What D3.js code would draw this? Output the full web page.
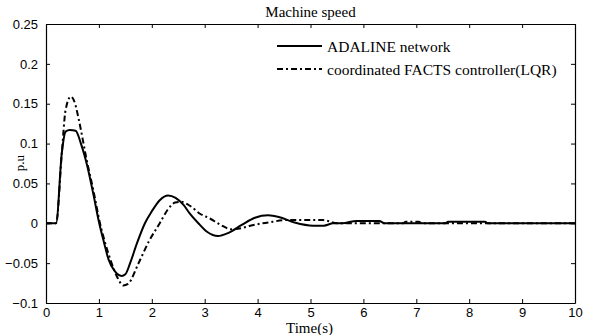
<!DOCTYPE html>
<html>
<head>
<meta charset="utf-8">
<script src="https://cdn.jsdelivr.net/npm/d3@7"></script>
<style>
  body { margin: 0; background: #fff; }
  .tick-label { font-family: "Liberation Sans", Arial, sans-serif; font-size: 13px; fill: #000; }
  .serif { font-family: "Liberation Serif", "Times New Roman", serif; fill: #000; }
</style>
</head>
<body>
<div class="chart"></div>
<script>
// values
var timeAdaline = [0, 0.19, 0.3, 0.37, 0.45, 0.56, 0.66, 0.78, 0.9, 1.0, 1.1, 1.18, 1.3, 1.43, 1.5, 1.59, 1.72, 1.87, 2.0, 2.15, 2.31, 2.45, 2.6, 2.72, 2.88, 3.05, 3.25, 3.45, 3.7, 3.95, 4.2, 4.4, 4.7, 5.05, 5.25, 5.43, 5.6, 5.87, 6.3, 6.4, 7.55, 7.6, 8.3, 8.35, 10];
var speedAdaline = [0, 0, 0.089, 0.115, 0.117, 0.116, 0.100, 0.072, 0.035, 0.002, -0.025, -0.045, -0.060, -0.066, -0.064, -0.05, -0.025, 0.0, 0.015, 0.029, 0.035, 0.032, 0.023, 0.012, 0.0, -0.011, -0.016, -0.012, -0.002, 0.007, 0.010, 0.008, 0.001, -0.003, -0.003, 0.0, 0.0, 0.003, 0.003, 0, 0, 0.002, 0.002, 0, 0];

var timeLqr = [0, 0.19, 0.3, 0.37, 0.47, 0.55, 0.62, 0.78, 0.9, 1.02, 1.12, 1.24, 1.35, 1.46, 1.55, 1.75, 1.95, 2.15, 2.3, 2.44, 2.55, 2.72, 2.91, 3.1, 3.3, 3.5, 3.7, 3.86, 4.2, 4.55, 5.24, 5.5, 6.0, 6.75, 6.8, 7.05, 7.1, 10];
var speedLqr = [0, 0, 0.089, 0.142, 0.159, 0.15, 0.13, 0.076, 0.04, 0.0, -0.025, -0.05, -0.068, -0.078, -0.076, -0.05, -0.022, 0.0, 0.017, 0.026, 0.027, 0.022, 0.012, 0.006, -0.002, -0.0075, -0.006, -0.003, 0.001, 0.004, 0.004, 0.0, 0.0, 0.0, 0.002, 0.002, 0, 0];

var xTicks = [0, 1, 2, 3, 4, 5, 6, 7, 8, 9, 10];
var yTicks = [-0.1, -0.05, 0, 0.05, 0.1, 0.15, 0.2, 0.25];
var seriesNames = ["ADALINE network", "coordinated FACTS controller(LQR)"];

var margin = {top: 24, right: 14, bottom: 32, left: 46};
var width = 589 - margin.left - margin.right;
var height = 335 - margin.top - margin.bottom;

var svg = d3.select(".chart")
    .append("svg")
    .attr("width", 589)
    .attr("height", 335);

var g = svg.append("g")
    .attr("transform", "translate(" + margin.left + "," + margin.top + ")");

var x = d3.scaleLinear().domain([0, 10]).range([0, width]);
var y = d3.scaleLinear().domain([-0.1, 0.25]).range([height, 0]);

var fmt = function(d) { return d3.format("")(+d.toFixed(2)); };

// axes, ticks pointing inward on all sides
g.append("g")
    .attr("transform", "translate(0," + height + ")")
    .call(d3.axisBottom(x).tickValues(xTicks).tickSizeInner(-4).tickSizeOuter(0).tickPadding(5).tickFormat(fmt));
g.append("g")
    .call(d3.axisLeft(y).tickValues(yTicks).tickSizeInner(-4).tickSizeOuter(0).tickPadding(8).tickFormat(fmt));
g.append("g")
    .call(d3.axisTop(x).tickValues(xTicks).tickSizeInner(-4).tickSizeOuter(0).tickFormat(""));
g.append("g")
    .attr("transform", "translate(" + width + ",0)")
    .call(d3.axisRight(y).tickValues(yTicks).tickSizeInner(-4).tickSizeOuter(0).tickFormat(""));

g.selectAll(".domain").attr("stroke", "#000").attr("stroke-width", 1.2);
g.selectAll(".tick line").attr("stroke", "#000");
g.selectAll(".tick text").attr("class", "tick-label").attr("font-family", null).attr("font-size", null);

var line = d3.line()
    .x(function(d) { return x(d[0]); })
    .y(function(d) { return y(d[1]); })
    .curve(d3.curveMonotoneX);

g.append("path")
    .datum(d3.zip(timeLqr, speedLqr))
    .attr("fill", "none")
    .attr("stroke", "#000")
    .attr("stroke-width", 2)
    .attr("stroke-dasharray", "6,3,2,3")
    .attr("d", line);

g.append("path")
    .datum(d3.zip(timeAdaline, speedAdaline))
    .attr("fill", "none")
    .attr("stroke", "#000")
    .attr("stroke-width", 2)
    .attr("d", line);

// legend
var legend = svg.append("g");
seriesNames.forEach(function(name, i) {
  var ly = 46 + i * 23;
  legend.append("line")
      .attr("x1", 277).attr("x2", 322)
      .attr("y1", ly).attr("y2", ly)
      .attr("stroke", "#000")
      .attr("stroke-width", 2)
      .attr("stroke-dasharray", i === 1 ? "6,3,2,3" : null);
  legend.append("text")
      .attr("class", "serif")
      .attr("x", 327).attr("y", ly + 6)
      .attr("font-size", 15.5)
      .text(name);
});

// title and axis labels
svg.append("text")
    .attr("class", "serif")
    .attr("x", margin.left + width / 2).attr("y", 17)
    .attr("text-anchor", "middle")
    .attr("font-size", 15)
    .text("Machine speed");

svg.append("text")
    .attr("class", "serif")
    .attr("x", margin.left + width / 2 - 1).attr("y", 333)
    .attr("text-anchor", "middle")
    .attr("font-size", 15)
    .text("Time(s)");

svg.append("text")
    .attr("class", "serif")
    .attr("transform", "translate(24,163) rotate(-90)")
    .attr("text-anchor", "middle")
    .attr("font-size", 13)
    .text("p.u");
</script>
</body>
</html>
